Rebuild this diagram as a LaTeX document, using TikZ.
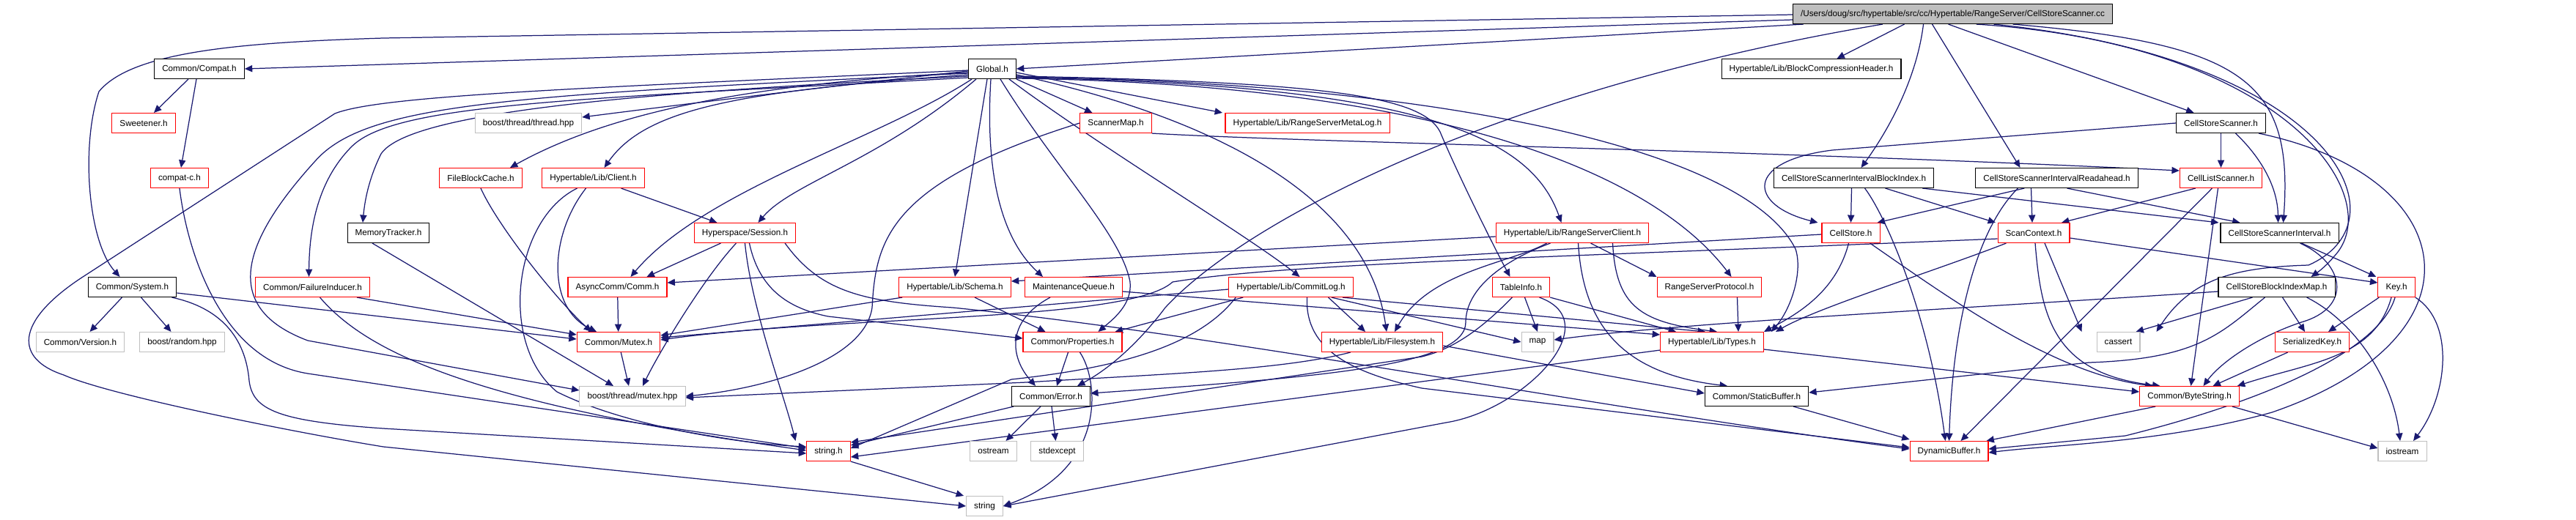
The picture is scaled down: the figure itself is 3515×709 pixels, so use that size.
\documentclass[tikz,border=0pt]{standalone}
\usepackage{fontspec}
\newfontfamily\hfont{Liberation Sans}
\usetikzlibrary{calc, arrows.meta, backgrounds}
\definecolor{edgeblue}{HTML}{191970}
\definecolor{boxgrey}{HTML}{BFBFBF}

\begin{document}
\begin{tikzpicture}[x=0.5pt, y=-0.5pt,
    box/.style={rectangle, line width=0.55pt, fill=white, inner xsep=5.3pt, inner ysep=0pt,
      minimum height=13.5pt, font=\hfont\fontsize{5.85pt}{7pt}\selectfont},
    hdr/.style={box, draw=black},
    trunc/.style={box, draw=red},
    sysinc/.style={box, draw=boxgrey},
    rootfile/.style={box, draw=black, fill=boxgrey},
    inc/.style={draw=edgeblue, line width=0.62pt, -{Triangle[length=5.2pt, width=4.6pt]}}]
  \useasboundingbox (0,0) rectangle (3515,709);

  % include files, row by row
  \node[rootfile] (m) at (2664.5,19) {/Users/doug/src/hypertable/src/cc/Hypertable/RangeServer/CellStoreScanner.cc};

  \node[hdr] (compat) at (272,94) {Common/Compat.h};
  \node[hdr] (glob) at (1354,94) {Global.h};
  \node[hdr] (bch) at (2471.5,94) {Hypertable/Lib/BlockCompressionHeader.h};

  \node[trunc] (sweet) at (196,168) {Sweetener.h};
  \node[sysinc] (thread) at (721,168) {boost/thread/thread.hpp};
  \node[trunc] (smap) at (1522.5,168) {ScannerMap.h};
  \node[trunc] (rsml) at (1784,168) {Hypertable/Lib/RangeServerMetaLog.h};
  \node[hdr] (cssh) at (3030.5,168) {CellStoreScanner.h};

  \node[trunc] (compc) at (245,243) {compat-c.h};
  \node[trunc] (fbc) at (656,243) {FileBlockCache.h};
  \node[trunc] (client) at (809.5,243) {Hypertable/Lib/Client.h};
  \node[hdr] (cssibi) at (2529.5,243) {CellStoreScannerIntervalBlockIndex.h};
  \node[hdr] (cssira) at (2806.5,243) {CellStoreScannerIntervalReadahead.h};
  \node[trunc] (cls) at (3030.5,243) {CellListScanner.h};

  \node[hdr] (memt) at (530,318) {MemoryTracker.h};
  \node[trunc] (sess) at (1016.5,318) {Hyperspace/Session.h};
  \node[trunc] (rsc) at (2145.5,318) {Hypertable/Lib/RangeServerClient.h};
  \node[trunc] (cstore) at (2525.5,318) {CellStore.h};
  \node[trunc] (sctx) at (2775,318) {ScanContext.h};
  \node[hdr] (cssi) at (3110.5,318) {CellStoreScannerInterval.h};

  \node[hdr] (sys) at (180.5,392) {Common/System.h};
  \node[trunc] (fail) at (426.5,392) {Common/FailureInducer.h};
  \node[trunc] (comm) at (842.5,392) {AsyncComm/Comm.h};
  \node[trunc] (schema) at (1303,392) {Hypertable/Lib/Schema.h};
  \node[trunc] (mq) at (1465,392) {MaintenanceQueue.h};
  \node[trunc] (clog) at (1761.5,392) {Hypertable/Lib/CommitLog.h};
  \node[trunc] (tinfo) at (2075.5,392) {TableInfo.h};
  \node[trunc] (rsp) at (2332.5,392) {RangeServerProtocol.h};
  \node[hdr] (csbim) at (3106.5,392) {CellStoreBlockIndexMap.h};
  \node[trunc] (key) at (3270,392) {Key.h};

  \node[sysinc] (ver) at (109.5,467) {Common/Version.h};
  \node[sysinc] (rand) at (248.5,467) {boost/random.hpp};
  \node[trunc] (mutex) at (844,467) {Common/Mutex.h};
  \node[trunc] (props) at (1463.5,467) {Common/Properties.h};
  \node[trunc] (fs) at (1886,467) {Hypertable/Lib/Filesystem.h};
  \node[sysinc] (map) at (2098,467) {map};
  \node[trunc] (types) at (2336,467) {Hypertable/Lib/Types.h};
  \node[sysinc] (cassert) at (2890.5,467) {cassert};
  \node[trunc] (skey) at (3155,467) {SerializedKey.h};

  \node[sysinc] (bmutex) at (863,541) {boost/thread/mutex.hpp};
  \node[hdr] (error) at (1434,541) {Common/Error.h};
  \node[hdr] (sbuf) at (2397,541) {Common/StaticBuffer.h};
  \node[trunc] (bstr) at (2987.5,541) {Common/ByteString.h};

  \node[trunc] (strh) at (1130.5,616) {string.h};
  \node[sysinc] (ostream) at (1355.5,616) {ostream};
  \node[sysinc] (stdexc) at (1442.5,616) {stdexcept};
  \node[trunc] (dynbuf) at (2659.5,616) {DynamicBuffer.h};
  \node[sysinc] (iostream) at (3278,616) {iostream};

  \node[sysinc] (string) at (1343.5,691) {string};

  \begin{scope}[on background layer]
  % from the source file
  \draw[inc] ($(m.west)+(0,1)$) -- (523,52) .. controls (330,58) and (180,70) .. (135,125) .. controls (110,200) and (120,330) .. ($(sys.north)+(-17,0)$);
  \draw[inc] ($(m.west)+(0,8)$) -- (compat.east);
  \draw[inc] ($(m.south west)+(15,0)$) -- (glob.east);
  \draw[inc] ($(m.south west)+(123,0)$) .. controls (2050,120) and (1700,300) .. (1590,420) .. controls (1560,460) and (1520,500) .. ($(error.north east)+(-18,0)$);
  \draw[inc] ($(m.south)+(-66,0)$) -- ($(bch.north)+(35,0)$);
  \draw[inc] ($(m.south)+(-40,0)$) .. controls (2615,110) and (2575,180) .. ($(cssibi.north)+(10,0)$);
  \draw[inc] ($(m.south)+(-28,0)$) -- ($(cssira.north)+(-50,0)$);
  \draw[inc] ($(m.south)+(-6,0)$) -- ($(cssh.north)+(-37,0)$);
  \draw[inc] ($(m.south)+(82,0)$) .. controls (3060,60) and (3130,110) .. ($(cssi.north)+(5,0)$);
  \draw[inc] ($(m.south)+(32,0)$) .. controls (3120,60) and (3260,270) .. (3185,350) .. controls (3175,362) and (3165,370) .. ($(csbim.north)+(47,0)$);
  \draw[inc] ($(m.south)+(56,0)$) .. controls (3180,80) and (3290,300) .. (3150,362) .. controls (3050,365) and (2990,380) .. ($(cassert.north)+(52,0)$);

  % Common/Compat.h and Common/System.h
  \draw[inc] ($(compat.south)+(-15,0)$) -- ($(sweet.north)+(14,0)$);
  \draw[inc] ($(compat.south)+(-4,0)$) -- ($(compc.north)+(2,0)$);
  \draw[inc] (compc.south) .. controls (255,340) and (300,491) .. (420,510) -- ($(strh.west)+(0,-4)$);
  \draw[inc] ($(sys.south)+(-14,0)$) -- ($(ver.north)+(13,0)$);
  \draw[inc] ($(sys.south)+(12,0)$) -- ($(rand.north)+(-15,0)$);
  \draw[inc] ($(sys.east)+(0,8)$) -- ($(mutex.west)+(0,-4)$);
  \draw[inc] ($(sys.south east)+(-7,0)$) .. controls (300,420) and (335,460) .. (340,520) .. controls (345,560) and (380,575) .. (523,585) -- ($(strh.west)+(0,3)$);
  \draw[inc] ($(fail.south east)+(-18,0)$) -- ($(mutex.west)+(0,-10)$);
  \draw[inc] ($(fail.south)+(10,0)$) .. controls (500,480) and (640,550) .. ($(strh.west)+(0,-1)$);
  \draw[inc] ($(memt.south)+(-22,0)$) -- ($(bmutex.north)+(-26,0)$);

  % Global.h
  \draw[inc] ($(glob.west)+(0,3)$) .. controls (1200,110) and (950,140) .. ($(thread.east)+(0,-8)$);
  \draw[inc] ($(glob.west)+(0,5)$) .. controls (1000,115) and (820,160) .. ($(fbc.north)+(40,0)$);
  \draw[inc] ($(glob.west)+(0,8)$) .. controls (1000,125) and (880,150) .. ($(client.north)+(15,0)$);
  \draw[inc] ($(glob.west)+(0,10)$) .. controls (900,125) and (560,150) .. (520,210) .. controls (505,240) and (498,270) .. ($(memt.north)+(-35,0)$);
  \draw[inc] ($(glob.west)+(0,12)$) .. controls (800,135) and (540,140) .. (480,200) .. controls (430,250) and (422,320) .. ($(fail.north)+(-5,0)$);
  \draw[inc] ($(glob.west)+(0,6)$) .. controls (700,130) and (500,140) .. (430,220) .. controls (330,330) and (300,420) .. (420,465) -- ($(bmutex.west)+(0,-8)$);
  \draw[inc] ($(glob.west)+(0,2)$) .. controls (800,120) and (520,130) .. (457,155) -- (110,380) .. controls (20,440) and (20,490) .. (87,512) .. controls (150,540) and (400,590) .. (523,610) -- (string.west);
  \draw[inc] (glob.south east) -- ($(smap.north)+(-32,0)$);
  \draw[inc] ($(glob.east)+(0,5)$) -- ($(rsml.north)+(-116,0)$);
  \draw[inc] ($(glob.south west)+(5,0)$) .. controls (1200,190) and (960,260) .. ($(comm.north)+(18,0)$);
  \draw[inc] ($(glob.south)+(-22,0)$) .. controls (1200,220) and (1080,250) .. ($(sess.north)+(18,0)$);
  \draw[inc] ($(glob.south)+(-7,0)$) -- (schema.north);
  \draw[inc] ($(glob.south)+(-2,0)$) .. controls (1345,220) and (1360,320) .. ($(mq.north)+(-42,0)$);
  \draw[inc] ($(glob.south)+(11,0)$) .. controls (1440,230) and (1530,320) .. (1542,385) .. controls (1545,415) and (1520,435) .. ($(props.north)+(35,0)$);
  \draw[inc] ($(glob.south east)+(-10,0)$) .. controls (1500,200) and (1700,320) .. ($(clog.north)+(12,0)$);
  \draw[inc] ($(glob.east)+(0,8)$) .. controls (1560,140) and (1860,230) .. ($(fs.north)+(6,0)$);
  \draw[inc] ($(glob.east)+(0,10)$) .. controls (1800,112) and (1940,130) .. (1965,180) .. controls (1990,240) and (2040,340) .. ($(tinfo.north)+(-15,0)$);
  \draw[inc] ($(glob.east)+(0,12)$) .. controls (1950,115) and (2090,190) .. ($(rsc.north)+(-15,0)$);
  \draw[inc] ($(glob.east)+(0,13)$) .. controls (1950,115) and (2250,230) .. ($(rsp.north)+(30,0)$);
  \draw[inc] ($(glob.east)+(0,11)$) .. controls (1950,112) and (2380,200) .. (2450,340) .. controls (2460,370) and (2445,420) .. ($(types.north)+(81,0)$);

  % client side headers
  \draw[inc] (fbc.south) .. controls (680,310) and (760,410) .. ($(mutex.north)+(-37,0)$);
  \draw[inc] ($(client.south)+(-10,0)$) .. controls (750,320) and (745,420) .. ($(mutex.north)+(-30,0)$);
  \draw[inc] ($(client.south)+(-22,0)$) .. controls (700,300) and (680,470) .. (760,535) .. controls (850,580) and (1000,605) .. ($(strh.west)+(0,-6)$);
  \draw[inc] ($(client.south)+(38,0)$) -- ($(sess.north)+(-38,0)$);
  \draw[inc] ($(sess.south)+(-33,0)$) -- ($(comm.north)+(40,0)$);
  \draw[inc] ($(sess.south)+(-12,0)$) .. controls (960,380) and (900,480) .. ($(bmutex.north)+(14,0)$);
  \draw[inc] (sess.south) .. controls (1025,420) and (1070,540) .. ($(strh.north)+(-45,0)$);
  \draw[inc] ($(sess.south)+(6,0)$) .. controls (1035,390) and (1070,420) .. (1130,432) -- ($(props.west)+(0,-5)$);
  \draw[inc] ($(sess.south east)+(-15,0)$) .. controls (1120,400) and (1180,412) .. (1300,420) .. controls (1650,455) and (2200,560) .. ($(dynbuf.west)+(0,-3)$);
  \draw[inc] (comm) -- (mutex);
  \draw[inc] (mutex) -- ($(bmutex.north)+(-5,0)$);
  \draw[inc] (smap.south east) .. controls (1800,195) and (2400,205) .. ($(cls.west)+(0,-10)$);
  \draw[inc] (smap.west) .. controls (1210,250) and (1195,330) .. (1190,420) .. controls (1180,490) and (1050,530) .. (bmutex.east);

  % lib headers
  \draw[inc] ($(schema.south west)+(5,0)$) -- ($(mutex.east)+(0,-9)$);
  \draw[inc] ($(schema.south)+(27,0)$) -- ($(props.north)+(-37,0)$);
  \draw[inc] ($(mq.south)+(-32,0)$) .. controls (1370,440) and (1380,490) .. ($(error.north)+(-21,0)$);
  \draw[inc] ($(mq.east)+(0,6)$) -- ($(types.west)+(0,-10)$);
  \draw[inc] ($(clog.west)+(0,3)$) -- ($(mutex.east)+(0,-6)$);
  \draw[inc] ($(clog.south west)+(20,0)$) -- ($(props.north east)+(-10,0)$);
  \draw[inc] ($(clog.south west)+(10,0)$) .. controls (1630,480) and (1500,505) .. (1380,518) -- ($(strh.east)+(0,-4)$);
  \draw[inc] ($(clog.south)+(51,0)$) -- ($(fs.north)+(-23,0)$);
  \draw[inc] ($(clog.south east)+(-30,0)$) -- (map.west);
  \draw[inc] ($(clog.south east)+(-15,0)$) -- ($(types.north)+(-9,0)$);
  \draw[inc] ($(clog.south)+(22,0)$) .. controls (1780,480) and (1850,510) .. (1940,530) -- ($(dynbuf.west)+(0,-5)$);
  \draw[inc] ($(tinfo.south)+(5,0)$) -- (map.north);
  \draw[inc] (tinfo.south east) -- ($(types.north west)+(22,0)$);
  \draw[inc] ($(tinfo.south)+(25,0)$) .. controls (2195,440) and (2080,560) .. (1973,577) -- (string.east);
  \draw[inc] ($(tinfo.south)+(-12,0)$) .. controls (2030,440) and (1990,475) .. (1940,487) -- ($(strh.east)+(0,-12)$);
  \draw[inc] ($(rsc.west)+(0,5)$) -- ($(comm.east)+(0,-6)$);
  \draw[inc] ($(rsc.south)+(25,0)$) -- ($(rsp.north)+(-72,0)$);
  \draw[inc] ($(rsc.south)+(55,0)$) .. controls (2205,420) and (2240,440) .. ($(types.north)+(7,0)$);
  \draw[inc] ($(rsc.south)+(8,0)$) .. controls (2160,440) and (2210,510) .. ($(sbuf.north)+(-40,0)$);
  \draw[inc] ($(rsc.south)+(-35,0)$) .. controls (2060,360) and (1950,370) .. ($(fs.north)+(17,0)$);
  \draw[inc] ($(rsc.south)+(-30,0)$) .. controls (2040,360) and (2000,400) .. (2000,440) .. controls (2000,500) and (1800,515) .. ($(error.east)+(0,-4)$);
  \draw[inc] ($(rsp.south)+(38,0)$) -- ($(types.north)+(36,0)$);
  \draw[inc] ($(fs.east)+(0,5)$) -- ($(sbuf.west)+(0,-4)$);
  \draw[inc] ($(fs.south west)+(40,0)$) .. controls (1750,505) and (1600,510) .. (1400,522) -- ($(bmutex.east)+(0,2)$);
  \draw[inc] ($(types.south west)+(0,-3)$) -- ($(strh.east)+(0,8)$);
  \draw[inc] ($(types.east)+(0,10)$) -- ($(bstr.west)+(0,-6)$);
  \draw[inc] ($(props.south)+(-6,0)$) -- ($(error.north)+(8,0)$);
  \draw[inc] ($(props.south)+(10,0)$) .. controls (1500,520) and (1510,640) .. (string.east);
  \draw[inc] ($(error.south west)+(3,0)$) -- ($(strh.east)+(0,-8)$);
  \draw[inc] ($(error.south)+(-14,0)$) -- ($(ostream.north)+(17,0)$);
  \draw[inc] ($(error.south)+(1,0)$) -- ($(stdexc.north)+(-2,0)$);
  \draw[inc] (strh.south east) -- ($(string.north west)+(-3,0)$);
  \draw[inc] ($(sbuf.south east)+(-21,0)$) -- ($(dynbuf.north west)+(0,-2)$);

  % range server headers
  \draw[inc] (cssh) -- (cls);
  \draw[inc] ($(cssh.south)+(20,0)$) .. controls (3090,220) and (3108,260) .. ($(cssi.north)+(-2,0)$);
  \draw[inc] (cssh.west) -- (2500,205) .. controls (2380,220) and (2385,280) .. ($(cstore.north west)+(-5,0)$);
  \draw[inc] ($(cssh.south east)+(-10,0)$) .. controls (3360,240) and (3400,460) .. (3100,563) .. controls (2950,605) and (2800,607) .. ($(dynbuf.east)+(0,2)$);
  \draw[inc] ($(cls.south west)+(22,0)$) -- ($(sctx.north)+(38,0)$);
  \draw[inc] ($(cls.south)+(-4,0)$) -- ($(bstr.north)+(2,0)$);
  \draw[inc] ($(cls.south)+(-12,0)$) -- ($(dynbuf.north)+(16,0)$);
  \draw[inc] ($(cssibi.south)+(-3,0)$) -- (cstore.north);
  \draw[inc] ($(cssibi.south)+(43,0)$) -- ($(sctx.north)+(-52,0)$);
  \draw[inc] ($(cssibi.south east)+(-16,0)$) -- ($(cssi.north west)+(-2,0)$);
  \draw[inc] ($(cssibi.south)+(15,0)$) .. controls (2570,290) and (2630,420) .. ($(dynbuf.north)+(-5,0)$);
  \draw[inc] ($(cssira.south west)+(67,0)$) -- ($(cstore.north east)+(-4,0)$);
  \draw[inc] ($(cssira.south)+(-35,0)$) -- ($(sctx.north)+(-2,0)$);
  \draw[inc] ($(cssira.south)+(14,0)$) -- ($(cssi.north)+(-54,0)$);
  \draw[inc] ($(cssira.south)+(-53,0)$) .. controls (2700,310) and (2665,430) .. (dynbuf.north);
  \draw[inc] ($(cstore.west)+(0,2)$) -- ($(schema.east)+(0,-8)$);
  \draw[inc] ($(cstore.south)+(-3,0)$) .. controls (2505,400) and (2450,430) .. ($(types.north)+(71,0)$);
  \draw[inc] ($(cstore.south east)+(-14,0)$) .. controls (2650,400) and (2800,510) .. ($(bstr.north)+(-50,0)$);
  \draw[inc] ($(sctx.west)+(0,8)$) .. controls (2100,352) and (1750,360) .. (1600,385) .. controls (1540,440) and (1150,430) .. ($(mutex.east)+(0,-3)$);
  \draw[inc] ($(sctx.south west)+(12,0)$) .. controls (2640,370) and (2480,420) .. ($(types.north)+(87,0)$);
  \draw[inc] ($(sctx.south)+(2,0)$) .. controls (2785,430) and (2800,510) .. ($(bstr.north)+(-40,0)$);
  \draw[inc] ($(sctx.south)+(15,0)$) -- ($(cassert.north)+(-50,0)$);
  \draw[inc] ($(sctx.east)+(0,7)$) -- ($(key.west)+(0,-6)$);
  \draw[inc] ($(cssi.south)+(30,0)$) -- ($(key.north west)+(-2,0)$);
  \draw[inc] ($(cssi.south)+(28,0)$) .. controls (3200,360) and (3210,420) .. (3140,440) .. controls (3080,460) and (3030,495) .. ($(bstr.north)+(19,0)$);
  \draw[inc] ($(csbim.west)+(0,6)$) .. controls (2700,420) and (2300,440) .. ($(map.east)+(0,-3)$);
  \draw[inc] ($(csbim.south)+(-33,0)$) -- ($(cassert.north east)+(-6,0)$);
  \draw[inc] ($(csbim.south)+(-16,0)$) .. controls (3030,455) and (3000,490) .. (2850,495) -- ($(sbuf.east)+(0,-5)$);
  \draw[inc] ($(csbim.south)+(8,0)$) -- ($(skey.north)+(-10,0)$);
  \draw[inc] ($(csbim.south east)+(-39,0)$) .. controls (3215,440) and (3265,520) .. ($(iostream.north)+(-3,0)$);
  \draw[inc] ($(key.south west)+(2,0)$) -- ($(skey.north)+(22,0)$);
  \draw[inc] ($(key.south)+(-7,0)$) .. controls (3240,490) and (3150,495) .. ($(bstr.north east)+(-3,0)$);
  \draw[inc] ($(key.south)+(-2,0)$) .. controls (3250,470) and (3120,540) .. (2900,595) -- ($(dynbuf.east)+(0,-3)$);
  \draw[inc] (key.south east) .. controls (3350,440) and (3340,540) .. ($(iostream.north)+(15,0)$);
  \draw[inc] ($(skey.south west)+(18,0)$) -- ($(bstr.north)+(32,0)$);
  \draw[inc] ($(bstr.south west)+(22,0)$) -- ($(dynbuf.north east)+(-3,0)$);
  \draw[inc] ($(bstr.south east)+(-10,0)$) -- ($(iostream.west)+(0,-4)$);
  \end{scope}
\end{tikzpicture}
\end{document}
